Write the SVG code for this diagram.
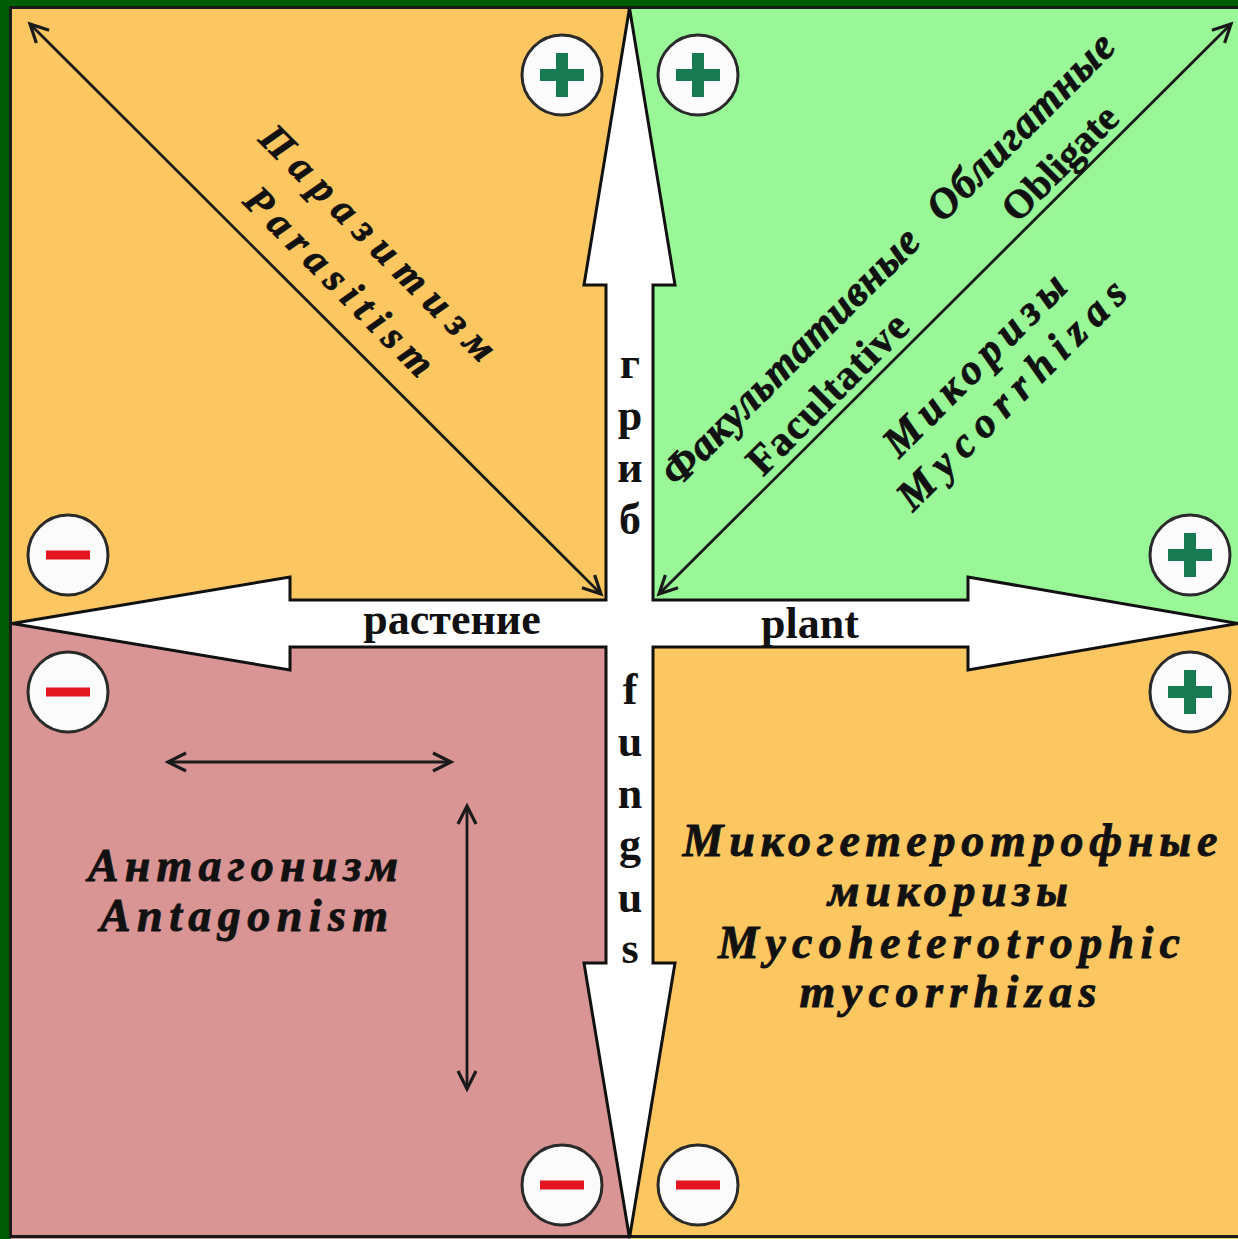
<svg xmlns="http://www.w3.org/2000/svg" width="1238" height="1239" viewBox="0 0 1238 1239">
<style>
.it{font-family:"Liberation Serif","Times New Roman",serif;font-weight:bold;font-style:italic;fill:#111;stroke:#111;stroke-width:0.9;}
.up{font-family:"Liberation Serif","Times New Roman",serif;font-weight:bold;fill:#111;stroke:#111;stroke-width:0.6;}
.ax{font-family:"Liberation Serif","Times New Roman",serif;font-weight:bold;fill:#111;font-size:44px;text-anchor:middle;}
.ln{fill:none;stroke:#1a1a1a;stroke-width:2.8;marker-start:url(#ah);marker-end:url(#ah);}
</style>
<defs>
<marker id="ah" viewBox="-22 -14 26 28" refX="0" refY="0" markerWidth="26" markerHeight="28" markerUnits="userSpaceOnUse" orient="auto-start-reverse">
<path d="M-18,-9 L0,0 L-18,9" fill="none" stroke="#1a1a1a" stroke-width="3.2"/>
</marker>
<g id="plusSign"><circle r="40" fill="#fbfbfb" stroke="#2a2a2a" stroke-width="3"/><path d="M-22,0 H22 M0,-22 V22" fill="none" stroke="#187a50" stroke-width="12"/></g>
<g id="minusSign"><circle r="40" fill="#fbfbfb" stroke="#2a2a2a" stroke-width="3"/><path d="M-22,0 H22" fill="none" stroke="#e3161f" stroke-width="9"/></g>
</defs>
<rect x="0" y="0" width="1238" height="1239" fill="#005c05"/>
<g id="quadrants">
<rect id="q-tl" x="11" y="8" width="618.5" height="615.5" fill="#fcc761"/>
<rect id="q-tr" x="629.5" y="8" width="610" height="615.5" fill="#99f797"/>
<rect id="q-bl" x="11" y="623.5" width="618.5" height="616" fill="#d99494"/>
<rect id="q-br" x="629.5" y="623.5" width="610" height="616" fill="#fcc761"/>
<rect x="10.5" y="7.5" width="1240" height="1229" fill="none" stroke="#1a1a1a" stroke-width="3"/>
</g>
<g id="axes">
<path d="M629.5,8 L675,285 L653,285 L653,600 L968,600 L968,577 L1238,623.5 L968,670 L968,647 L653,647 L653,963 L675,963 L629.5,1238 L584,963 L606,963 L606,647 L290,647 L290,670 L12,623.5 L290,577 L290,600 L606,600 L606,285 L584,285 Z" fill="#ffffff" stroke="#111" stroke-width="3" stroke-linejoin="miter"/>
<text class="ax" x="452" y="634">растение</text>
<text class="ax" x="810" y="638">plant</text>
<text class="ax"><tspan x="630" y="378">г</tspan><tspan x="630" y="430">р</tspan><tspan x="630" y="482">и</tspan><tspan x="630" y="534">б</tspan></text>
<text class="ax"><tspan x="630" y="704">f</tspan><tspan x="630" y="756">u</tspan><tspan x="630" y="808">n</tspan><tspan x="630" y="859">g</tspan><tspan x="630" y="912">u</tspan><tspan x="630" y="963">s</tspan></text>
</g>
<g id="connectors">
<line class="ln" x1="30" y1="24" x2="601" y2="594"/>
<line class="ln" x1="659" y1="594" x2="1231" y2="24"/>
<line class="ln" x1="168" y1="762" x2="451" y2="762"/>
<line class="ln" x1="467" y1="806" x2="467" y2="1089"/>
</g>
<g id="signs">
<use id="s-tl" href="#plusSign" x="562" y="75"/>
<use id="s-tr" href="#plusSign" x="698" y="75"/>
<use id="s-l1" href="#minusSign" x="68" y="555"/>
<use id="s-l2" href="#minusSign" x="68" y="692"/>
<use id="s-r1" href="#plusSign" x="1190" y="555"/>
<use id="s-r2" href="#plusSign" x="1190" y="692"/>
<use id="s-b1" href="#minusSign" x="562" y="1185"/>
<use id="s-b2" href="#minusSign" x="698" y="1185"/>
</g>
<g id="parasitism" transform="translate(359,262) rotate(45)">
<text class="it" font-size="40" text-anchor="middle" x="0" y="-14" textLength="316" lengthAdjust="spacing">Паразитизм</text>
<text class="it" font-size="40" text-anchor="middle" x="0" y="41" textLength="250" lengthAdjust="spacing">Parasitism</text>
</g>
<g id="mycorrhiza">
<text class="it" font-size="42" text-anchor="middle" transform="translate(791,357) rotate(-45)" y="13" textLength="346" lengthAdjust="spacing">Факультативные</text>
<text class="up" font-size="42" text-anchor="middle" transform="translate(828,394) rotate(-45)" y="13" textLength="210" lengthAdjust="spacing">Facultative</text>
<text class="it" font-size="42" text-anchor="middle" transform="translate(1021,127) rotate(-45)" y="13" textLength="247" lengthAdjust="spacing">Облигатные</text>
<text class="up" font-size="40" text-anchor="middle" transform="translate(1060,163) rotate(-45)" y="13">Obligate</text>
<text class="it" font-size="42" text-anchor="middle" transform="translate(975,365) rotate(-45)" y="13" textLength="240" lengthAdjust="spacing">Микоризы</text>
<text class="it" font-size="42" text-anchor="middle" transform="translate(1012,395) rotate(-45)" y="13" textLength="306" lengthAdjust="spacing">Mycorrhizas</text>
</g>
<g id="antagonism">
<text class="it" font-size="46" text-anchor="middle" x="243" y="881" textLength="310" lengthAdjust="spacing">Антагонизм</text>
<text class="it" font-size="46" text-anchor="middle" x="244" y="931" textLength="288" lengthAdjust="spacing">Antagonism</text>
</g>
<g id="mycoheterotrophic">
<text class="it" font-size="46" text-anchor="middle" x="950" y="856" textLength="535" lengthAdjust="spacing">Микогетеротрофные</text>
<text class="it" font-size="46" text-anchor="middle" x="948" y="906" textLength="240" lengthAdjust="spacing">микоризы</text>
<text class="it" font-size="46" text-anchor="middle" x="949" y="958" textLength="462" lengthAdjust="spacing">Mycoheterotrophic</text>
<text class="it" font-size="46" text-anchor="middle" x="948" y="1007" textLength="297" lengthAdjust="spacing">mycorrhizas</text>
</g>
</svg>
